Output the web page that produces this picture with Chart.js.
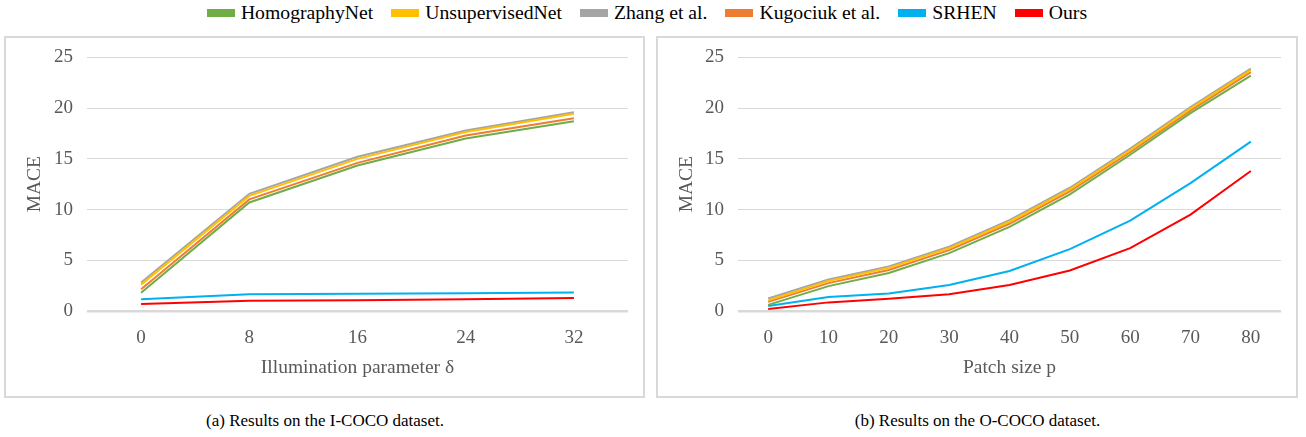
<!DOCTYPE html>
<html>
<head>
<meta charset="utf-8">
<script src="https://cdn.jsdelivr.net/npm/chart.js@4.4.1/dist/chart.umd.min.js"></script>
<style>
  html, body { margin:0; padding:0; background:#fff; width:1306px; height:437px; overflow:hidden; }
  body { position:relative; font-family:"Liberation Serif","Times New Roman",serif; }
  #legend { position:absolute; top:1px; left:-6px; width:1306px; display:flex; justify-content:center; align-items:center; font-size:19.7px; color:#000; }
  .item { display:flex; align-items:center; margin:0 9px; }
  .sw { width:28px; height:8px; margin-right:6px; }
  .panel { position:absolute; border:2px solid #d9d9d9; box-sizing:border-box; }
  canvas { position:absolute; }
  .cap { position:absolute; top:411px; font-size:17px; color:#000; text-align:center; }
</style>
</head>
<body>
<div id="legend"></div>
<div class="panel" style="left:4px;top:36px;width:641px;height:362px;"></div>
<div class="panel" style="left:656px;top:36px;width:642px;height:362px;"></div>
<canvas id="c1" width="640" height="365" style="left:5px;top:32px;"></canvas>
<canvas id="c2" width="641" height="365" style="left:657px;top:32px;"></canvas>
<div class="cap" style="left:5px;width:640px;">(a) Results on the I-COCO dataset.</div>
<div class="cap" style="left:657px;width:641px;">(b) Results on the O-COCO dataset.</div>
<script>
const seriesNames = ["HomographyNet","UnsupervisedNet","Zhang et al.","Kugociuk et al.","SRHEN","Ours"];
const seriesColors = ["#70ad47","#ffc000","#a5a5a5","#ed7d31","#00b0f0","#ff0000"];

// (a) I-COCO: illumination parameter delta
const illumCategories = ["0","8","16","24","32"];
const illumHomographyNet   = [1.8, 10.7, 14.35, 17.0, 18.7];
const illumUnsupervisedNet = [2.6, 11.35, 15.0, 17.65, 19.45];
const illumZhang           = [2.8, 11.55, 15.2, 17.8, 19.6];
const illumKugociuk        = [2.15, 11.0, 14.6, 17.3, 19.0];
const illumSRHEN           = [1.15, 1.65, 1.7, 1.75, 1.83];
const illumOurs            = [0.7, 1.0, 1.05, 1.15, 1.27];

// (b) O-COCO: patch size p
const patchCategories = ["0","10","20","30","40","50","60","70","80"];
const patchHomographyNet   = [0.6, 2.45, 3.75, 5.7, 8.3, 11.5, 15.4, 19.5, 23.2];
const patchUnsupervisedNet = [1.05, 2.95, 4.25, 6.2, 8.8, 12.0, 15.85, 19.95, 23.75];
const patchZhang           = [1.24, 3.1, 4.4, 6.35, 8.95, 12.15, 16.0, 20.1, 23.9];
const patchKugociuk        = [0.9, 2.75, 4.05, 6.0, 8.6, 11.8, 15.65, 19.75, 23.55];
const patchSRHEN           = [0.5, 1.37, 1.73, 2.57, 3.94, 6.1, 8.9, 12.6, 16.7];
const patchOurs            = [0.2, 0.85, 1.2, 1.66, 2.57, 4.0, 6.2, 9.5, 13.8];

const yTicks = [0, 5, 10, 15, 20, 25];

// HTML legend
const lg = document.getElementById('legend');
seriesNames.forEach((n, i) => {
  const it = document.createElement('div'); it.className = 'item';
  const sw = document.createElement('div'); sw.className = 'sw'; sw.style.background = seriesColors[i];
  const tx = document.createElement('span'); tx.textContent = n;
  it.appendChild(sw); it.appendChild(tx); lg.appendChild(it);
});

const FONT = "'Liberation Serif','Times New Roman',serif";

function makeChart(id, cats, data, xTitle, yW) {
  const datasets = data.map((d, i) => ({
    label: seriesNames[i], data: d, borderColor: seriesColors[i], backgroundColor: seriesColors[i],
    borderWidth: 2, pointRadius: 0, tension: 0, fill: false
  }));
  return new Chart(document.getElementById(id), {
    type: 'line',
    data: { labels: cats, datasets },
    options: {
      responsive: false, animation: false,
      layout: { padding: { left: 14, right: 17, top: 3, bottom: 0 } },
      plugins: { legend: { display: false }, tooltip: { enabled: false } },
      scales: {
        x: {
          offset: true,
          grid: { display: false, drawTicks: false },
          border: { display: false },
          ticks: { color: '#595959', font: { family: FONT, size: 19 }, padding: 16, maxRotation: 0 },
          title: { display: true, text: xTitle, color: '#595959', font: { family: FONT, size: 19.5 }, padding: { top: 4, bottom: 17 } },
          afterFit: s => { s.height = 86; }
        },
        y: {
          min: 0, max: 25,
          afterBuildTicks: s => { s.ticks = yTicks.map(v => ({ value: v })); },
          grid: { color: '#d9d9d9', lineWidth: c => (c.tick && c.tick.value === 0 ? 2.5 : 1), drawTicks: false },
          border: { display: false },
          ticks: { color: '#595959', font: { family: FONT, size: 19 }, padding: 14 },
          title: { display: true, text: 'MACE', color: '#595959', font: { family: FONT, size: 19.5 }, padding: { top: 4, bottom: 4 } },
          afterFit: s => { s.width = yW; }
        }
      }
    }
  });
}

makeChart('c1', illumCategories,
  [illumHomographyNet, illumUnsupervisedNet, illumZhang, illumKugociuk, illumSRHEN, illumOurs],
  'Illumination parameter δ', 68);
makeChart('c2', patchCategories,
  [patchHomographyNet, patchUnsupervisedNet, patchZhang, patchKugociuk, patchSRHEN, patchOurs],
  'Patch size p', 67);
</script>
</body>
</html>
